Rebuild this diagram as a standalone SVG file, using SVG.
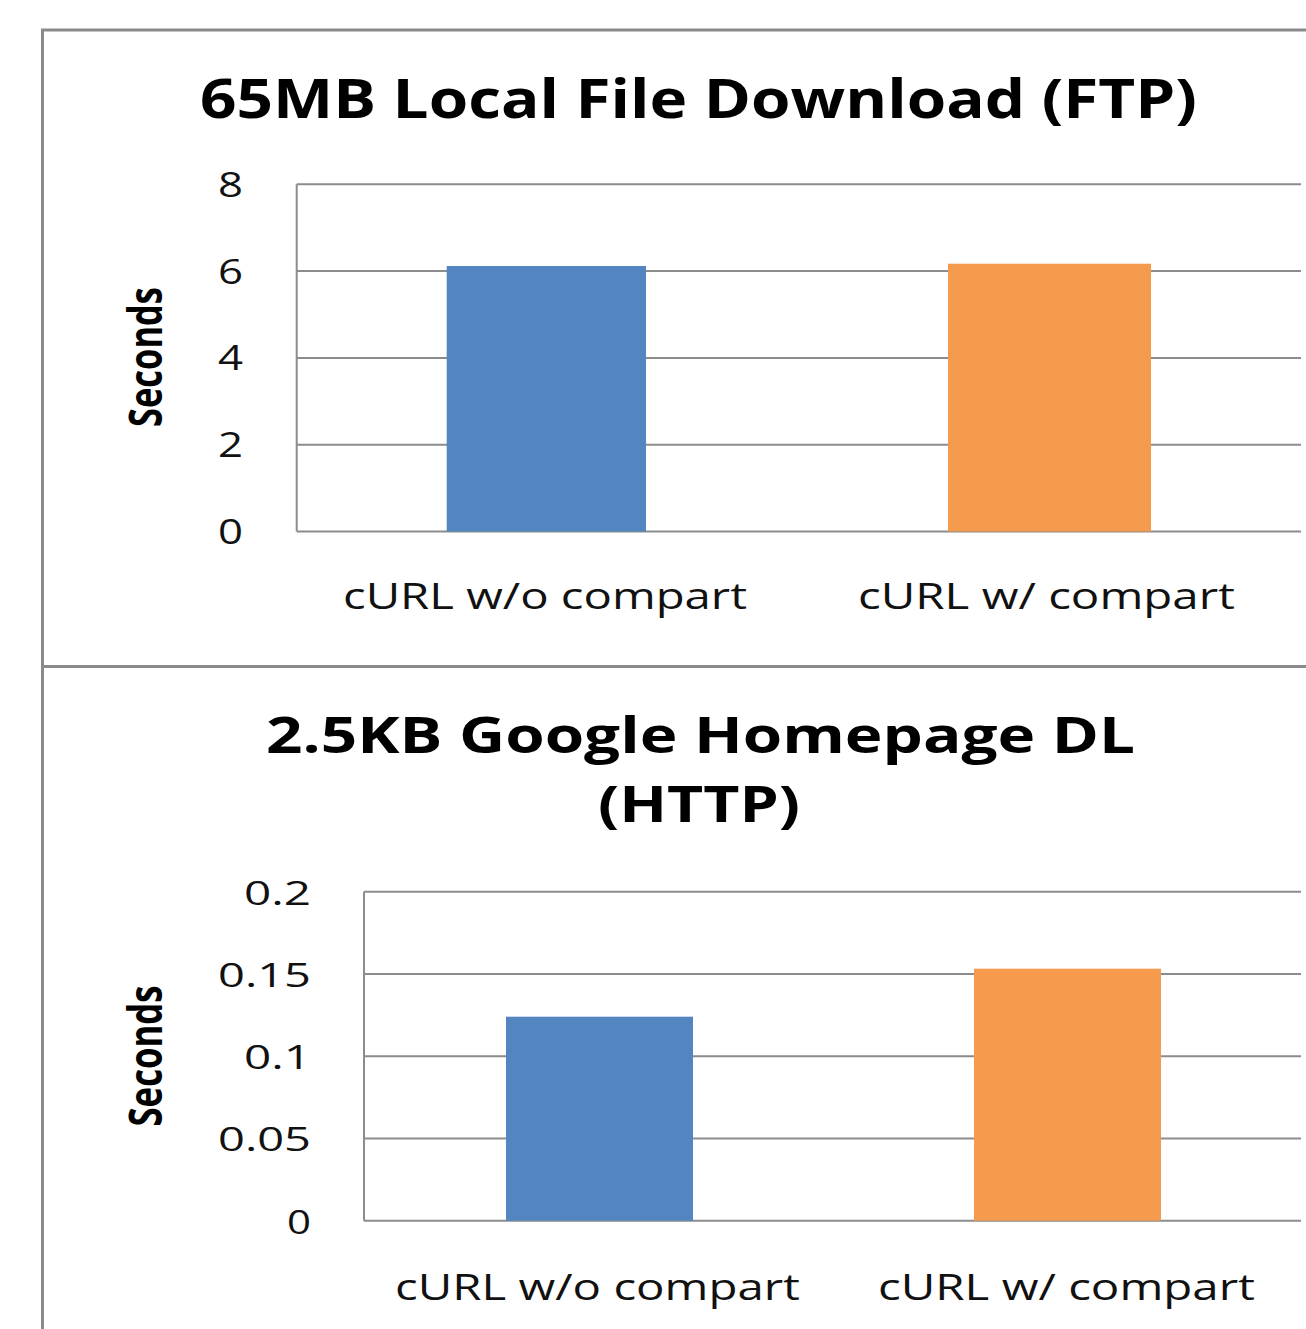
<svg xmlns="http://www.w3.org/2000/svg" width="1306" height="1329" viewBox="0 0 1306 1329">
<style>
.frame{fill:none;stroke:#8a8a8a;stroke-width:3}
.grid{stroke:#8c8c8c;stroke-width:2;fill:none}
.title{font-family:"Open Sans","DejaVu Sans",sans-serif;font-weight:bold;fill:#000;text-anchor:middle}
.tick{font-family:"Open Sans","DejaVu Sans",sans-serif;fill:#111;text-anchor:end}
.cat{font-family:"Open Sans","DejaVu Sans",sans-serif;fill:#111;font-size:37px}
.ylab{font-family:"Open Sans","DejaVu Sans",sans-serif;font-weight:bold;fill:#000;font-size:46px;text-anchor:middle}
.blue{fill:#5386C0}
.orange{fill:#F69A4D}
</style>
<g id="frame">
<path class="frame" d="M42.5,1329 V30 H1306"/>
<line class="frame" x1="42" y1="666.5" x2="1306" y2="666.5"/>
</g>
<g id="chart1">
<text class="title" x="698.5" y="118" font-size="53" textLength="997" lengthAdjust="spacingAndGlyphs">65MB Local File Download (FTP)</text>
<g id="chart1-grid">
<path class="grid" d="M296.7,184.3 H1301 M296.7,271.1 H1301 M296.7,357.9 H1301 M296.7,444.7 H1301 M296.7,531.5 H1301 M296.7,184.3 V531.5"/>
</g>
<g id="chart1-ticks">
<text class="tick" x="243" y="197" font-size="35" textLength="25" lengthAdjust="spacingAndGlyphs">8</text>
<text class="tick" x="243" y="283.6" font-size="35" textLength="25" lengthAdjust="spacingAndGlyphs">6</text>
<text class="tick" x="243" y="370.4" font-size="35" textLength="25" lengthAdjust="spacingAndGlyphs">4</text>
<text class="tick" x="243" y="457.2" font-size="35" textLength="25" lengthAdjust="spacingAndGlyphs">2</text>
<text class="tick" x="243" y="544" font-size="35" textLength="25" lengthAdjust="spacingAndGlyphs">0</text>
</g>
<text class="ylab" transform="translate(162,357) rotate(-90)" x="0" y="0" textLength="140" lengthAdjust="spacingAndGlyphs">Seconds</text>
<g id="chart1-bar1"><rect class="blue" x="446.7" y="266" width="199.3" height="265.5"/></g>
<g id="chart1-bar2"><rect class="orange" x="948" y="263.7" width="203" height="267.8"/></g>
<text class="cat" x="343" y="608.5" textLength="404" lengthAdjust="spacingAndGlyphs">cURL w/o compart</text>
<text class="cat" x="858" y="608.5" textLength="377" lengthAdjust="spacingAndGlyphs">cURL w/ compart</text>
</g>
<g id="chart2">
<text class="title" x="700.5" y="753.3" font-size="51" textLength="869" lengthAdjust="spacingAndGlyphs">2.5KB Google Homepage DL</text>
<text class="title" x="699" y="821.7" font-size="51" textLength="202" lengthAdjust="spacingAndGlyphs">(HTTP)</text>
<g id="chart2-grid">
<path class="grid" d="M364,891.7 H1301 M364,974 H1301 M364,1056.2 H1301 M364,1138.4 H1301 M364,1220.7 H1301 M364,891.7 V1220.7"/>
</g>
<g id="chart2-ticks">
<text class="tick" x="311" y="904.5" font-size="32" textLength="67" lengthAdjust="spacingAndGlyphs">0.2</text>
<text class="tick" x="311" y="986.8" font-size="32" textLength="93" lengthAdjust="spacingAndGlyphs">0.15</text>
<text class="tick" x="311" y="1069" font-size="32" textLength="67" lengthAdjust="spacingAndGlyphs">0.1</text>
<text class="tick" x="311" y="1151.2" font-size="32" textLength="93" lengthAdjust="spacingAndGlyphs">0.05</text>
<text class="tick" x="311" y="1233.5" font-size="32" textLength="24" lengthAdjust="spacingAndGlyphs">0</text>
</g>
<text class="ylab" transform="translate(162,1056) rotate(-90)" x="0" y="0" textLength="141" lengthAdjust="spacingAndGlyphs">Seconds</text>
<g id="chart2-bar1"><rect class="blue" x="506" y="1016.7" width="187" height="204"/></g>
<g id="chart2-bar2"><rect class="orange" x="974" y="968.7" width="187" height="252"/></g>
<text class="cat" x="395" y="1300" textLength="405" lengthAdjust="spacingAndGlyphs">cURL w/o compart</text>
<text class="cat" x="878" y="1300" textLength="377" lengthAdjust="spacingAndGlyphs">cURL w/ compart</text>
</g>
</svg>
